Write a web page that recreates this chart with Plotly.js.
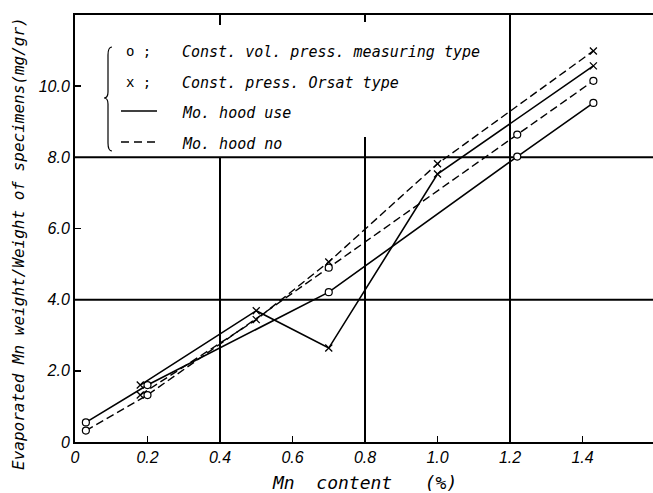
<!DOCTYPE html>
<html>
<head>
<meta charset="utf-8">
<script src="https://cdn.plot.ly/plotly-3.0.1.min.js"></script>
<style>html,body{margin:0;padding:0;background:#fff;}#chart{width:653px;height:493px;}</style>
</head>
<body>
<div id="chart"></div>
<script>
// ---- data ----
const circUseX  = [0.03, 0.20, 0.70, 1.22, 1.43];
const circUseY  = [0.55, 1.60, 4.21, 8.02, 9.53];
const circNoX   = [0.03, 0.20, 0.70, 1.22, 1.43];
const circNoY   = [0.32, 1.32, 4.90, 8.64, 10.15];
const crossUseX = [0.18, 0.50, 0.70, 1.00, 1.43];
const crossUseY = [1.60, 3.69, 2.64, 7.53, 10.57];
const crossNoX  = [0.18, 0.50, 0.70, 1.00, 1.43];
const crossNoY  = [1.32, 3.44, 5.06, 7.82, 10.99];

const xTickVals = [0, 0.2, 0.4, 0.6, 0.8, 1.0, 1.2, 1.4];
const xTickText = ["0", "0.2", "0.4", "0.6", "0.8", "1.0", "1.2", "1.4"];
const yTickVals = [0, 2, 4, 6, 8, 10];
const yTickText = ["0", "2.0", "4.0", "6.0", "8.0", "10.0"];

const legendLabels = ["Const. vol. press. measuring type", "Const. press. Orsat type", "Mo. hood use", "Mo. hood no"];
const legendSymbols = ["o ;", "x ;"];
const xTitle = "Mn  content   (%)";
const yTitle = "Evaporated Mn weight/Weight of specimens(mg/gr)";

// ---- layout helpers ----
const W = 653, H = 493;
const M = {l: 75, r: 0, t: 15, b: 51};
const PW = W - M.l - M.r, PH = H - M.t - M.b;
const px = v => (v - M.l) / PW;      // pixel -> paper x
const py = v => (H - M.b - v) / PH;  // pixel -> paper y
const ital = a => a.map(s => "<i>" + s + "</i>");

const tickFam = "Liberation Sans, Arial, sans-serif";
const mono = "DejaVu Sans Mono, monospace";

const solid = {color: "#000", width: 1.6};
const dashed = {color: "#000", width: 1.4, dash: "8px,4px"};
const circMarker = {symbol: "circle", size: 7, color: "#fff", line: {color: "#000", width: 1.2}};
const crossMarker = {symbol: "x-thin", size: 7, color: "#000", line: {color: "#000", width: 1.3}};

const traces = [
  {x: circUseX, y: circUseY, mode: "lines+markers", line: solid, marker: circMarker},
  {x: circNoX, y: circNoY, mode: "lines+markers", line: dashed, marker: circMarker},
  {x: crossUseX, y: crossUseY, mode: "lines+markers", line: solid, marker: crossMarker},
  {x: crossNoX, y: crossNoY, mode: "lines+markers", line: dashed, marker: crossMarker}
];

const gl = {color: "#000", width: 2};
const shapes = [
  {type: "line", layer: "below", xref: "paper", yref: "y", x0: 0, x1: 1, y0: 4, y1: 4, line: gl},
  {type: "line", layer: "below", xref: "paper", yref: "y", x0: 0, x1: 1, y0: 8, y1: 8, line: gl},
  {type: "line", layer: "below", xref: "x", yref: "y", x0: 0.4, x1: 0.4, y0: 0, y1: 8, line: gl},
  {type: "line", layer: "below", xref: "x", yref: "y", x0: 0.4, x1: 0.4, y0: 11.72, y1: 12, line: gl},
  {type: "line", layer: "below", xref: "x", yref: "y", x0: 0.8, x1: 0.8, y0: 0, y1: 8.57, line: gl},
  {type: "line", layer: "below", xref: "x", yref: "y", x0: 0.8, x1: 0.8, y0: 11.8, y1: 12, line: gl},
  {type: "line", layer: "below", xref: "x", yref: "y", x0: 1.2, x1: 1.2, y0: 0, y1: 12, line: gl},
  // legend brace
  {type: "path", xref: "paper", yref: "paper", line: {color: "#000", width: 1.2},
   path: `M ${px(112)} ${py(47)} Q ${px(108)} ${py(47)} ${px(108)} ${py(55)} L ${px(108)} ${py(92)} Q ${px(108)} ${py(98)} ${px(104)} ${py(98)} Q ${px(108)} ${py(98)} ${px(108)} ${py(104)} L ${px(108)} ${py(143)} Q ${px(108)} ${py(151)} ${px(112)} ${py(151)}`},
  // legend line samples
  {type: "line", xref: "paper", yref: "paper", x0: px(121), x1: px(157), y0: py(111), y1: py(111), line: {color: "#000", width: 1.5}},
  {type: "line", xref: "paper", yref: "paper", x0: px(121), x1: px(157), y0: py(142), y1: py(142), line: {color: "#000", width: 1.4, dash: "8px,5px"}}
];

const rowsY = [52, 83, 113, 144];
const annotations = [];
legendLabels.forEach((t, i) => {
  annotations.push({xref: "paper", yref: "paper", x: px(180), y: py(rowsY[i]), xanchor: "left", yanchor: "middle",
    text: "<i>" + t + "</i>", showarrow: false, font: {family: mono, size: 15, color: "#000"}});
});
legendSymbols.forEach((t, i) => {
  annotations.push({xref: "paper", yref: "paper", x: px(124), y: py(rowsY[i] - 1), xanchor: "left", yanchor: "middle",
    text: t, showarrow: false, font: {family: mono, size: 14, color: "#000"}});
});
annotations.push({xref: "paper", yref: "paper", x: px(364), y: py(482), xanchor: "center", yanchor: "middle",
  text: "<i>" + xTitle + "</i>", showarrow: false, font: {family: mono, size: 18, color: "#000"}});
annotations.push({xref: "paper", yref: "paper", x: px(19), y: py(244), xanchor: "center", yanchor: "middle", textangle: -90,
  text: "<i>" + yTitle + "</i>", showarrow: false, font: {family: mono, size: 16, color: "#000"}});

const layout = {
  width: W, height: H,
  margin: M,
  paper_bgcolor: "#fff", plot_bgcolor: "#fff",
  showlegend: false,
  xaxis: {
    range: [0, PW / 362.5], showgrid: false, zeroline: false,
    showline: true, linecolor: "#000", linewidth: 2, mirror: true,
    tickmode: "array", tickvals: xTickVals, ticktext: ital(xTickText),
    ticks: "inside", ticklen: 6, tickwidth: 1.5, tickcolor: "#000",
    tickfont: {family: tickFam, size: 16, color: "#000"}
  },
  yaxis: {
    range: [0, 12], showgrid: false, zeroline: false,
    showline: true, linecolor: "#000", linewidth: 2,
    tickmode: "array", tickvals: yTickVals, ticktext: ital(yTickText),
    ticks: "inside", ticklen: 6, tickwidth: 1.5, tickcolor: "#000",
    tickfont: {family: tickFam, size: 16, color: "#000"}
  },
  shapes: shapes,
  annotations: annotations
};

Plotly.newPlot("chart", traces, layout, {staticPlot: true, displayModeBar: false});
</script>
</body>
</html>
